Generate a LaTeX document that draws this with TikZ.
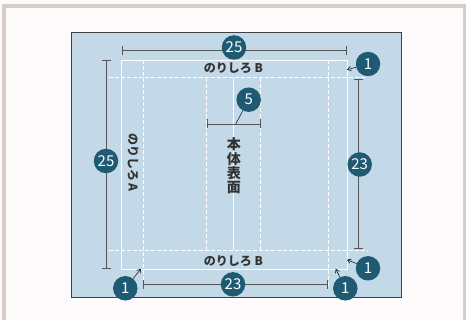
\documentclass[tikz,border=0pt]{standalone}
\usepackage{fontspec}
\usepackage{xcolor}
\usepackage{tikz}
\usetikzlibrary{arrows.meta,positioning,calc}
\setmainfont{Noto Sans CJK JP}
\definecolor{paperwhite}{RGB}{252,250,250}
\definecolor{framerose}{RGB}{217,205,201}
\definecolor{panelblue}{RGB}{195,217,231}
\definecolor{badgeblue}{RGB}{30,91,114}
\definecolor{dimgray}{RGB}{85,85,90}
\definecolor{inkblack}{RGB}{30,30,30}
\definecolor{labelblack}{RGB}{50,50,50}
\tikzset{
    badge/.style={circle, fill=badgeblue, text=white, minimum size=24.5pt, inner sep=0pt, font=\fontsize{15}{15}\selectfont},
    dimline/.style={draw=dimgray, line width=0.9pt, {Bar[width=9pt,line width=0.9pt]}-{Bar[width=9pt,line width=0.9pt]}},
    pointer/.style={draw=inkblack, line width=0.6pt, -{Straight Barb[length=3.5pt,width=4.5pt]}},
    foldline/.style={draw=white, line width=1pt, dash pattern=on 3.6pt off 2.4pt},
    sheetline/.style={draw=white, line width=0.9pt},
    marginlabel/.style={text=labelblack, font=\fontsize{12}{12}\selectfont\bfseries}
}
\begin{document}
\begin{tikzpicture}[x=1pt,y=-1pt]
    \useasboundingbox (0,0) rectangle (466,320);
    \fill[paperwhite] (0,0) rectangle (466,320);

    % Outer frame
    \draw[framerose, line width=4pt] (4,6) rectangle (465,330);
    \clip (0,0) rectangle (466,320);

    % Panel
    \draw[fill=panelblue, draw=black!75, line width=1pt] (71.7,32.7) rectangle (401.3,297.7);

    % Fold lines
    \draw[foldline] (109,78) -- (365,78);
    \draw[foldline] (109,250.3) -- (368,250.3);
    \draw[foldline] (143.3,60) -- (143.3,280);
    \draw[foldline] (328.3,60) -- (328.3,288);
    \draw[foldline] (206.5,78) -- (206.5,250.3);
    \draw[foldline] (260.7,78) -- (260.7,250.3);

    % Sheet outline
    \draw[sheetline] (121.7,60) rectangle (347.7,269);
    \draw[sheetline] (233,78) -- (233,250.3);

    % Labels
    \node[marginlabel] (marginTop) at (233.5,68) {のりしろ B};
    \node[marginlabel] (marginBottom) at (233.5,260.7) {のりしろ B};
    \node[marginlabel, rotate=-90] (marginLeft) at (133,162.5) {のりしろ A};
    \node[text=labelblack, font=\fontsize{14}{14.4}\selectfont\bfseries, align=center] (bodyLabel) at (233.9,166) {本\\体\\表\\面};

    % Dimension ends
    \coordinate (topL) at (122.3,50.7);
    \coordinate (topR) at (347.3,50.7);
    \coordinate (leftT) at (106.3,60);
    \coordinate (leftB) at (106.3,269);
    \coordinate (rightT) at (358.3,79.3);
    \coordinate (rightB) at (358.3,249.3);
    \coordinate (botL) at (143.3,284.3);
    \coordinate (botR) at (328,284.3);
    \coordinate (innerL) at (207,124);
    \coordinate (innerR) at (260.5,124);
    \coordinate (innerM) at (235.7,124);

    % Dimension lines
    \draw[dimline] (topL) -- (topR);
    \draw[dimline] (leftT) -- (leftB);
    \draw[dimline] (rightT) -- (rightB);
    \draw[dimline] (botL) -- (botR);
    \draw[dimline] (innerL) -- (innerR);

    % Pointer ends
    \coordinate (cornerTR) at (347,69.7);
    \coordinate (cornerBR) at (347,259.7);
    \coordinate (cornerBM) at (335.7,268.7);
    \coordinate (cornerBL) at (141,268.7);

    % Badges
    \node[badge] (sizeTop) at (234,47.5) {25};
    \node[badge] (sizeLeft) at (106,161) {25};
    \node[badge] (sizeRight) at (359.7,164.5) {23};
    \node[badge] (sizeBot) at (233,284.3) {23};
    \node[badge] (sizeInner) at (248.7,99.7) {5};
    \node[badge] (oneTR) at (368,64) {1};
    \node[badge] (oneBR) at (368,268.3) {1};
    \node[badge] (oneBM) at (345.3,288.3) {1};
    \node[badge] (oneBL) at (125.3,288.3) {1};

    % Pointers
    \draw[pointer] (oneTR) -- (cornerTR);
    \draw[pointer] (oneBR) -- (cornerBR);
    \draw[pointer] (oneBM) -- (cornerBM);
    \draw[pointer] (oneBL) -- (cornerBL);
    \draw[draw=inkblack, line width=0.6pt] (sizeInner) -- (innerM);
\end{tikzpicture}
\end{document}
